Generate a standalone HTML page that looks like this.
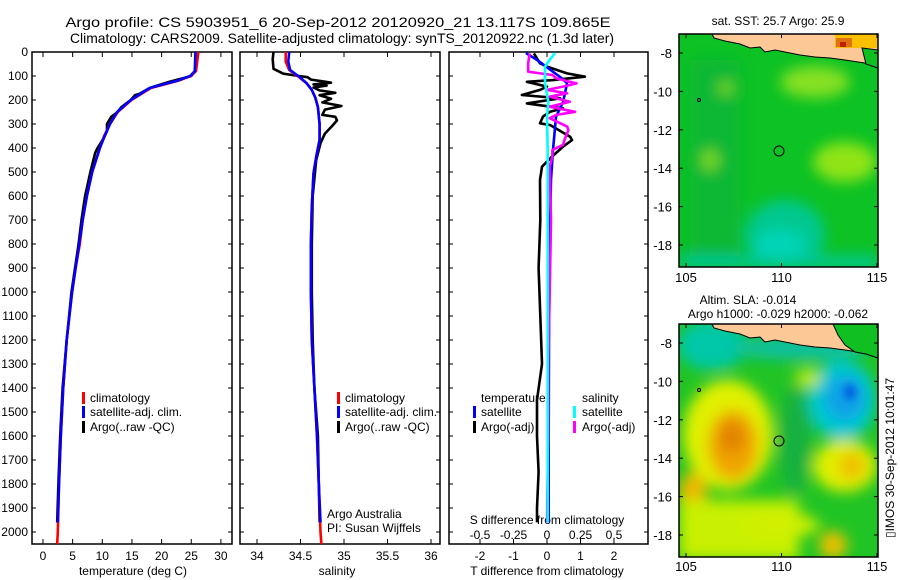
<!DOCTYPE html>
<html><head><meta charset="utf-8"><title>Argo profile</title>
<style>
html,body{margin:0;padding:0;background:#fff;}
svg{display:block;font-family:"Liberation Sans",sans-serif;}
text{fill:#000;}
</style></head>
<body>
<svg id="fig" width="900" height="580" viewBox="0 0 900 580" xmlns="http://www.w3.org/2000/svg">
<defs>
<clipPath id="c1"><rect x="32" y="52" width="200" height="492"/></clipPath>
<clipPath id="c2"><rect x="240" y="52" width="200" height="492"/></clipPath>
<clipPath id="c3"><rect x="449" y="52" width="199" height="492"/></clipPath>
<clipPath id="cm1"><rect x="679" y="34" width="199" height="233"/></clipPath>
<clipPath id="cm2"><rect x="679" y="324" width="199" height="233"/></clipPath>
<filter id="bl" x="-50%" y="-50%" width="200%" height="200%"><feGaussianBlur stdDeviation="7"/></filter>
<filter id="bl2" x="-50%" y="-50%" width="200%" height="200%"><feGaussianBlur stdDeviation="4"/></filter>
</defs>
<text x="338" y="27" font-size="14" text-anchor="middle" textLength="545" lengthAdjust="spacingAndGlyphs">Argo profile: CS 5903951_6 20-Sep-2012 20120920_21 13.117S 109.865E</text>
<text x="342" y="43" font-size="14" text-anchor="middle" textLength="544" lengthAdjust="spacingAndGlyphs">Climatology: CARS2009. Satellite-adjusted climatology: synTS_20120922.nc (1.3d later)</text>

<!-- Maps -->
<g clip-path="url(#cm1)">
 <rect x="679" y="34" width="199" height="233" fill="#0cc224"/>
 <g filter="url(#bl)">
  <rect x="690" y="60" width="50" height="200" fill="#0ab834"/>
  <ellipse cx="815" cy="82" rx="35" ry="16" fill="#86e020"/>
  <ellipse cx="845" cy="162" rx="32" ry="20" fill="#90e418"/>
  <ellipse cx="710" cy="160" rx="8" ry="10" fill="#80dc20"/>
  <ellipse cx="726" cy="88" rx="7" ry="6" fill="#80dc20"/>
  <ellipse cx="785" cy="235" rx="40" ry="35" fill="#00c890"/>
  <ellipse cx="780" cy="245" rx="25" ry="15" fill="#00d4b8"/>
  <rect x="679" y="256" width="199" height="12" fill="#00c89c"/>
 </g>
 <path d="M712,34 L714,38 L725,41 L740,44 L750,48 L760,47 L765,52 L775,50 L790,53 L800,55 L815,57 L830,58 L845,60 L858,62 L865,63 L872,66 L878,68 L878,34 Z" fill="#fcc896" stroke="#000" stroke-width="1"/>
 <rect x="835" y="34" width="43" height="14" fill="#f8c000"/>
 <rect x="836" y="38" width="16" height="9" fill="#e07010"/>
 <rect x="840" y="42" width="6" height="5" fill="#c02000"/>
 <path d="M862,48 L878,50 L878,68 L866,64 Z" fill="#10c020" stroke="#000" stroke-width="1"/>
 <circle cx="779" cy="151" r="5" fill="none" stroke="#000" stroke-width="1"/>
 <circle cx="699" cy="100" r="1.5" fill="none" stroke="#000" stroke-width="1"/>
</g>
<rect x="679" y="34" width="199" height="233" fill="none" stroke="#000" stroke-width="1.5"/>
<text x="778" y="25" font-size="12" text-anchor="middle">sat. SST: 25.7 Argo: 25.9</text>

<g clip-path="url(#cm2)">
 <rect x="679" y="324" width="199" height="233" fill="#20c424"/>
 <g filter="url(#bl)">
  <ellipse cx="712" cy="345" rx="35" ry="25" fill="#00c8a8"/>
  <ellipse cx="800" cy="348" rx="70" ry="12" fill="#10c0a0"/>
  <ellipse cx="842" cy="400" rx="34" ry="40" fill="#00c8d0"/>
  <ellipse cx="845" cy="398" rx="20" ry="22" fill="#10a0e8"/>
  <ellipse cx="808" cy="378" rx="13" ry="9" fill="#c0ec00"/>
  <ellipse cx="728" cy="435" rx="45" ry="55" fill="#e0f000"/>
  <ellipse cx="733" cy="445" rx="25" ry="35" fill="#f0a400"/>
  <ellipse cx="732" cy="437" rx="12" ry="16" fill="#e08000"/>
  <ellipse cx="693" cy="492" rx="14" ry="20" fill="#f0b800"/>
  <rect x="679" y="500" width="120" height="60" fill="#c8f000"/>
  <ellipse cx="780" cy="525" rx="40" ry="12" fill="#d0f000"/>
  <ellipse cx="845" cy="466" rx="32" ry="26" fill="#e0f000"/>
  <ellipse cx="852" cy="466" rx="14" ry="14" fill="#f0c000"/>
  <ellipse cx="833" cy="545" rx="14" ry="14" fill="#f0c000"/>
  <ellipse cx="795" cy="440" rx="15" ry="55" fill="#14b040"/>
 </g>
 <ellipse cx="850" cy="392" rx="6" ry="8" fill="#0060e0" filter="url(#bl2)"/>
 <path d="M712,324 L714,328 L725,331 L740,334 L750,338 L760,337 L765,342 L775,340 L790,343 L800,345 L815,347 L830,348 L845,350 L858,352 L865,353 L872,356 L878,358 L878,324 Z" fill="#fcc896" stroke="#000" stroke-width="1"/>
 <path d="M833,324 L878,324 L878,358 L866,354 L855,352 L845,345 L838,335 Z" fill="#10c020" stroke="#000" stroke-width="1"/>
 <circle cx="779" cy="441" r="5" fill="none" stroke="#000" stroke-width="1"/>
 <circle cx="699" cy="390" r="1.5" fill="none" stroke="#000" stroke-width="1"/>
</g>
<rect x="679" y="324" width="199" height="233" fill="none" stroke="#000" stroke-width="1.5"/>
<text x="748" y="304" font-size="12" text-anchor="middle">Altim. SLA: -0.014</text>
<text x="778" y="318" font-size="12" text-anchor="middle">Argo h1000: -0.029 h2000: -0.062</text>
<text transform="translate(894,458) rotate(-90)" font-size="12" text-anchor="middle">▯IMOS 30-Sep-2012 10:01:47</text>

<g id="plots"></g>
</svg>
<script>
// ---------- data ----------
const depthTicks = [0,100,200,300,400,500,600,700,800,900,1000,1100,1200,1300,1400,1500,1600,1700,1800,1900,2000];
const tempTicks = [0,5,10,15,20,25,30];
const salTicks = [34,34.5,35,35.5,36];
const salTickLabels = ["34","34.5","35","35.5","36"];
const tdiffTicks = [-2,-1,0,1,2];
const sdiffTicks = [-0.5,-0.25,0,0.25,0.5];
const sdiffTickLabels = ["-0.5","-0.25","0","0.25","0.5"];
const latTicks = [-8,-10,-12,-14,-16,-18];
const lonTicks = [105,110,115];

const climDepthT = [0,80,100,120,150,200,250,300,350,400,500,600,700,800,900,1000,1200,1400,1600,1800,2000,2050];
const climTemp = [26.2,25.8,24.9,22.8,18.2,14.9,12.6,11.3,10.3,9.6,8.3,7.4,6.7,6.2,5.5,4.9,4.0,3.4,3.0,2.7,2.5,2.4];
const satDepthT = [0,80,100,120,150,200,250,300,350,400,500,600,700,800,900,1000,1200,1400,1600,1800,1960];
const satTemp = [25.7,25.6,24.8,22.6,18.0,14.8,12.5,11.3,10.4,9.6,8.3,7.4,6.7,6.1,5.5,4.9,4.0,3.4,3.0,2.7,2.5];
const argoDepthT = [0,80,100,110,125,150,175,180,200,230,250,270,300,330,360,400,420,500,600,700,800,1000,1200,1400,1600,1800,1960];
const argoTemp = [25.9,25.6,25.0,23.5,21.2,18.0,16.2,15.5,14.8,13.2,12.6,11.5,10.8,10.8,10.2,9.2,8.8,8.0,7.1,6.5,6.0,4.8,4.0,3.3,2.9,2.6,2.4];

const climDepthS = [0,40,75,104,130,158,190,229,300,366,437,506,646,800,1000,1200,1400,1600,1800,2000,2050];
const climSal = [34.33,34.33,34.37,34.48,34.57,34.63,34.67,34.70,34.72,34.72,34.68,34.65,34.63,34.62,34.62,34.63,34.66,34.69,34.71,34.73,34.74];
const satDepthS = [0,40,75,104,130,158,190,229,300,366,437,506,646,800,1000,1200,1400,1600,1800,1960];
const satSal = [34.37,34.36,34.38,34.49,34.57,34.63,34.67,34.70,34.72,34.72,34.68,34.65,34.63,34.62,34.62,34.63,34.66,34.69,34.71,34.73];
const argoDepthS = [0,30,70,90,100,105,115,122,128,135,140,148,160,170,180,195,210,225,240,262,270,285,310,340,380,450,600,800,1000,1200,1400,1600,1800,1960];
const argoSal = [34.19,34.18,34.19,34.30,34.48,34.58,34.62,34.75,34.85,34.65,34.80,34.65,34.72,34.90,34.72,34.85,34.75,34.97,34.78,34.75,34.90,34.92,34.86,34.78,34.73,34.68,34.64,34.63,34.63,34.64,34.66,34.70,34.71,34.72];

const satDiffDepthT = [4,33,61,104,130,208,270,408,533,800,1200,1600,1960];
const satDiffT = [-0.63,-0.30,-0.03,0.39,0.60,0.48,0.27,0.18,0.12,0.08,0.06,0.05,0.05];
const argoDiffDepthT = [6,47,61,89,103,117,124,144,158,179,193,214,235,249,269,297,304,353,367,394,436,478,533,700,900,1100,1300,1450,1600,1750,1900,1960];
const argoDiffT = [-0.39,-0.21,0,0.6,1.13,0.18,-0.6,0,-0.21,-0.75,0.39,-0.6,0.48,0.09,-0.12,-0.21,0.09,0.69,0.75,0.48,0.15,-0.15,-0.21,-0.2,-0.25,-0.2,-0.15,-0.3,-0.3,-0.25,-0.3,-0.3];
const satDiffDepthS = [4,33,61,104,130,208,270,408,700,1200,1600,1960];
const satDiffS = [0.06,0.02,-0.015,-0.015,-0.015,0.01,0.0,0.005,0.005,0.005,0.005,0.005];
const argoDiffDepthS = [6,47,82,89,96,110,124,131,144,158,172,186,207,228,249,262,276,311,325,367,387,408,436,478,700,1000,1300,1600,1960];
const argoDiffS = [-0.13,-0.14,-0.14,-0.05,0.04,0.07,0.17,0.22,0.12,0.0,0.15,0.02,0.17,0.02,0.21,0.07,0.02,0.15,0.16,0.13,0.12,0.04,0.04,0.02,0.03,0.02,0.01,0.01,0.0];

// ---------- scales ----------
const yD = d => 52 + 0.24*d;
const xT = t => 43 + 5.93*t;
const xS = s => 257 + 87*(s-34);
const xTd = t => 547 + 33.5*t;
const xSd = s => 547 + 134*s;
const mapX = lon => 686 + (lon-105)*19.1;
const mapY = lat => 53 + (-8-lat)*19.2;

const NS = "http://www.w3.org/2000/svg";
const root = document.getElementById('plots');
function mk(tag, attrs, parent){
  const e = document.createElementNS(NS, tag);
  for (const k in attrs) e.setAttribute(k, attrs[k]);
  (parent||root).appendChild(e);
  return e;
}
function txt(x,y,s,size,anchor,parent){
  const e = mk('text',{x:x,y:y,'font-size':size,'text-anchor':anchor||'middle'},parent);
  e.textContent = s;
  return e;
}
function line(depths, vals, xf, color, clip){
  const pts = depths.map((d,i)=> xf(vals[i]).toFixed(1)+','+yD(d).toFixed(1)).join(' ');
  return mk('polyline',{points:pts,fill:'none',stroke:color,'stroke-width':2.6,'stroke-linejoin':'round','clip-path':'url(#'+clip+')'});
}

// ---------- frames & ticks ----------
const panels = [[32,'temperature-panel'],[240,'salinity-panel'],[449,'difference-panel']];
panels.forEach(p=>{
  const f = mk('rect',{x:p[0],y:52,width:(p[0]===449?199:200),height:492,fill:'none',stroke:'#000','stroke-width':1.5});
  
  
  depthTicks.forEach(d=>{
    const w = p[0]===449?199:200;
    const t1 = mk('line',{x1:p[0],x2:p[0]+4,y1:yD(d),y2:yD(d),stroke:'#000','stroke-width':1});
    
    
    const t2 = mk('line',{x1:p[0]+w-4,x2:p[0]+w,y1:yD(d),y2:yD(d),stroke:'#000','stroke-width':1});
    
    
  });
});
depthTicks.forEach(d=>{
  const e = txt(28, yD(d)+4, String(d), 12, 'end');
  
  
});
function xticks(vals, labels, xf, name){
  vals.forEach((v,i)=>{
    const a = mk('line',{x1:xf(v),x2:xf(v),y1:52,y2:57,stroke:'#000','stroke-width':1});
    
    
    const b = mk('line',{x1:xf(v),x2:xf(v),y1:539,y2:544,stroke:'#000','stroke-width':1});
    
    
    const t = txt(xf(v), 560, labels[i], 12);
    
    
  });
}
xticks(tempTicks, tempTicks.map(String), xT, 'temperature');
xticks(salTicks, salTickLabels, xS, 'salinity');
xticks(tdiffTicks, tdiffTicks.map(String), xTd, 't-difference');
sdiffTicks.forEach((v,i)=>{
  const t = txt(xSd(v), 539, sdiffTickLabels[i], 12);
  
  
});

let e;
e = txt(133, 575, 'temperature (deg C)', 12);


e = txt(337, 575, 'salinity', 12);


e = txt(547, 575, 'T difference from climatology', 12);


e = txt(547, 524, 'S difference from climatology', 12);



// ---------- series ----------
e = line(argoDepthT, argoTemp, xT, '#000', 'c1');


e = line(climDepthT, climTemp, xT, '#ff0000', 'c1');


e = line(satDepthT, satTemp, xT, '#0000ff', 'c1');



e = line(argoDepthS, argoSal, xS, '#000', 'c2');


e = line(climDepthS, climSal, xS, '#ff0000', 'c2');


e = line(satDepthS, satSal, xS, '#0000ff', 'c2');



e = line(argoDiffDepthT, argoDiffT, xTd, '#000', 'c3');


e = line(satDiffDepthT, satDiffT, xTd, '#0000ff', 'c3');


e = line(argoDiffDepthS, argoDiffS, xSd, '#ff00ff', 'c3');


e = line(satDiffDepthS, satDiffS, xSd, '#00ffff', 'c3');



// ---------- legends ----------
function legendEntry(bx, tx, y, color, label, name){
  if (color){
    const b = mk('rect',{x:bx,y:y-10,width:3,height:12,fill:color});
    
    
  }
  const t = txt(tx, y, label, 12, 'start');
  
  
}
legendEntry(82, 90, 402, '#ff0000', 'climatology', 'legend-entry-climatology');
legendEntry(82, 90, 416, '#0000ff', 'satellite-adj. clim.', 'legend-entry-satellite');
legendEntry(82, 90, 431, '#000000', 'Argo(..raw -QC)', 'legend-entry-argo');
legendEntry(337, 345, 402, '#ff0000', 'climatology', 'legend-entry-climatology');
legendEntry(337, 345, 416, '#0000ff', 'satellite-adj. clim.', 'legend-entry-satellite');
legendEntry(337, 345, 431, '#000000', 'Argo(..raw -QC)', 'legend-entry-argo');
legendEntry(0, 481, 402, null, 'temperature', 'legend-header-temperature');
legendEntry(473, 481, 416, '#0000ff', 'satellite', 'legend-entry-t-satellite');
legendEntry(473, 481, 431, '#000000', 'Argo(-adj)', 'legend-entry-t-argo');
legendEntry(0, 582, 402, null, 'salinity', 'legend-header-salinity');
legendEntry(573, 582, 416, '#00ffff', 'satellite', 'legend-entry-s-satellite');
legendEntry(573, 582, 431, '#ff00ff', 'Argo(-adj)', 'legend-entry-s-argo');
e = txt(327, 518, 'Argo Australia', 12, 'start');


e = txt(327, 532, 'PI: Susan Wijffels', 12, 'start');



// ---------- map axes ----------
[0,290].forEach(off=>{
  latTicks.forEach(lat=>{
    const y = mapY(lat)+off;
    const t = txt(672, y+5, String(lat), 13, 'end');
    
    
    const a = mk('line',{x1:679,x2:683,y1:y,y2:y,stroke:'#000'});
    
    
    const b = mk('line',{x1:874,x2:878,y1:y,y2:y,stroke:'#000'});
    
    
  });
  lonTicks.forEach(lon=>{
    const x = mapX(lon);
    const t = txt(x, (off?566:277)+5, String(lon), 13);
    
    
    const a = mk('line',{x1:x,x2:x,y1:34+off,y2:38+off,stroke:'#000'});
    
    
    const b = mk('line',{x1:x,x2:x,y1:263+off,y2:267+off,stroke:'#000'});
    
    
  });
});
</script>
</body></html>
